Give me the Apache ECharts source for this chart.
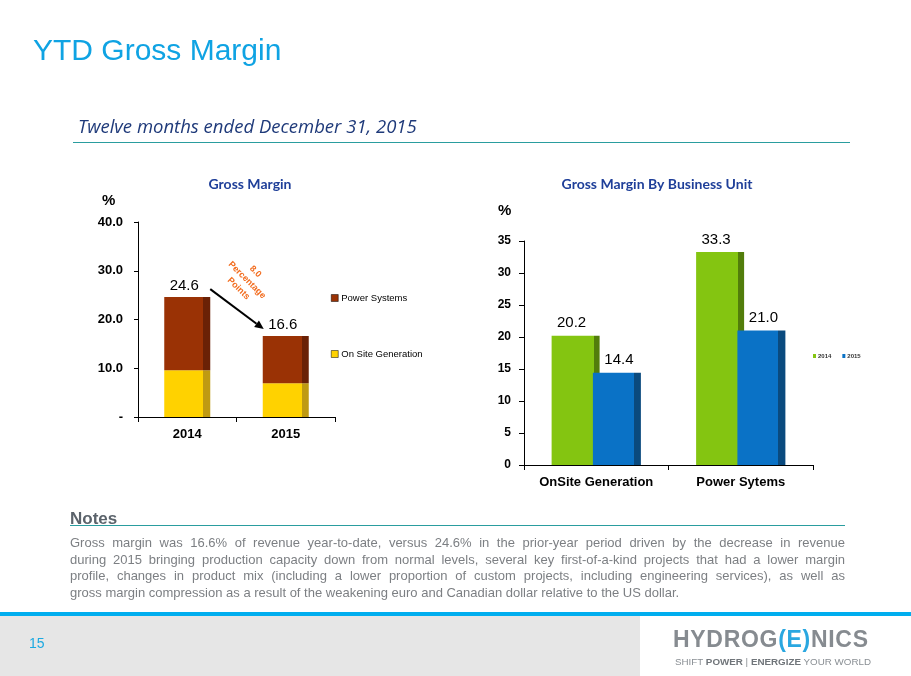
<!DOCTYPE html>
<html>
<head>
<meta charset="utf-8">
<script src="https://cdn.jsdelivr.net/npm/echarts@6/dist/echarts.min.js"></script>
<style>
  html, body { margin: 0; padding: 0; background: #fff; }
  #page { position: relative; width: 911px; height: 676px; overflow: hidden; font-family: "Liberation Sans", Arial, sans-serif; }
  #chart { position: absolute; left: 0; top: 0; width: 911px; height: 676px; }
  .abs { position: absolute; white-space: nowrap; }
  #title { left: 33px; top: 33px; font-size: 30px; color: #0fa3e3; }
  #subtitle { left: 78px; top: 113px; font-family: "Open Sans", Lato, sans-serif; font-style: italic; font-size: 18.5px; color: #1f3a7a; }
  #subline { left: 73px; top: 142px; width: 777px; height: 1px; background: #2a9d9f; }
  #notesHead { left: 70px; top: 509px; font-size: 17px; font-weight: bold; color: #5b636b; }
  #notesLine { left: 70px; top: 525px; width: 775px; height: 1px; background: #2a9d9f; }
  #notes { left: 70px; top: 535px; width: 775px; font-size: 13px; line-height: 16.5px; color: #7c7f83; }
  #notes div { text-align: justify; text-align-last: justify; white-space: nowrap; }
  #notes div:last-child { text-align-last: left; }
  #footBar { left: 0; top: 612px; width: 911px; height: 4px; background: #00aeef; }
  #footGray { left: 0; top: 616px; width: 640px; height: 60px; background: #e6e6e6; }
  #pageNo { left: 29px; top: 635px; font-size: 14px; color: #1ba9e1; }
  #logo { left: 673px; top: 626px; font-size: 23px; font-weight: bold; color: #868b90; letter-spacing: 0.7px; }
  #logo span { color: #2aa7e0; }
  #tag { left: 675px; top: 656px; font-size: 9.8px; color: #8a8f94; }
  #tag b { color: #70757a; }
</style>
</head>
<body>
<div id="page">
  <div id="footGray" class="abs"></div>
  <div id="chart"></div>
  <div id="title" class="abs">YTD Gross Margin</div>
  <div id="subtitle" class="abs">Twelve months ended December 31, 2015</div>
  <div id="subline" class="abs"></div>
  <div id="notesHead" class="abs">Notes</div>
  <div id="notesLine" class="abs"></div>
  <div id="notes" class="abs">
    <div>Gross margin was 16.6% of revenue year-to-date, versus 24.6% in the prior-year period driven by the decrease in revenue</div>
    <div>during 2015 bringing production capacity down from normal levels, several key first-of-a-kind projects that had a lower margin</div>
    <div>profile, changes in product mix (including a lower proportion of custom projects, including engineering services), as well as</div>
    <div>gross margin compression as a result of the weakening euro and Canadian dollar relative to the US dollar.</div>
  </div>
  <div id="footBar" class="abs"></div>
  <div id="pageNo" class="abs">15</div>
  <div id="logo" class="abs">HYDROG<span>(E)</span>NICS</div>
  <div id="tag" class="abs">SHIFT <b>POWER</b> | <b>ENERGIZE</b> YOUR WORLD</div>
</div>
<script>
// left chart: total gross margin, split by unit
const yearCats = ["2014", "2015"];
const onSiteGen = [9.6, 6.9];
const powerSys = [15.0, 9.7];
const leftTicks = ["-", "10.0", "20.0", "30.0", "40.0"];

// right chart: gross margin by business unit
const unitCats = ["OnSite Generation", "Power Sytems"];
const unit2014 = [20.2, 33.3];
const unit2015 = [14.4, 21.0];

const chart = echarts.init(document.getElementById("chart"));

// flat front face + darker side strip, fakes the 3D bars
const face = (main, side, frac) => ({
  type: "linear", x: 0, y: 0, x2: 1, y2: 0,
  colorStops: [
    { offset: 0, color: main },
    { offset: frac, color: main },
    { offset: frac, color: side },
    { offset: 1, color: side }
  ]
});

const axisFont = { fontFamily: "Liberation Sans", fontWeight: "bold", color: "#000" };
const blackLine = { lineStyle: { color: "#000", width: 1 } };
const titleFont = { fontFamily: "Lato", fontSize: 14, fontWeight: "bold", color: "#1f3f99" };

const option = {
  animation: false,
  title: [
    { text: "Gross Margin", left: 245, top: 172, textAlign: "center", textStyle: titleFont },
    { text: "Gross Margin By Business Unit", left: 652, top: 172, textAlign: "center", textStyle: titleFont }
  ],
  legend: [
    {
      orient: "vertical", left: 326, top: 287, itemWidth: 7, itemHeight: 7, itemGap: 44,
      icon: "rect", selectedMode: false,
      textStyle: { fontFamily: "Liberation Sans", fontSize: 9.5, color: "#000", lineHeight: 12, padding: [0, 0, 0, -2] },
      data: [
        { name: "Power Systems", itemStyle: { color: "#9a3205", borderColor: "#000", borderWidth: 0.5 } },
        { name: "On Site Generation", itemStyle: { color: "#ffd200", borderColor: "#000", borderWidth: 0.5 } }
      ]
    },
    {
      orient: "horizontal", left: 808, top: 348, itemWidth: 3, itemHeight: 4, itemGap: 11,
      icon: "rect", selectedMode: false,
      textStyle: { fontFamily: "Liberation Sans", fontSize: 6, fontWeight: "bold", color: "#333", padding: [0, 0, 0, -3] },
      data: [
        { name: "2014", itemStyle: { color: "#84c511" } },
        { name: "2015", itemStyle: { color: "#0a72c6" } }
      ]
    }
  ],
  grid: [
    { left: 138, top: 222, width: 197, height: 195 },
    { left: 524, top: 241, width: 289, height: 224 }
  ],
  xAxis: [
    {
      type: "category", gridIndex: 0, data: yearCats,
      axisLine: blackLine, axisTick: { show: true, length: 5, lineStyle: { color: "#000" } },
      axisLabel: Object.assign({ fontSize: 13, margin: 11, interval: 0 }, axisFont)
    },
    {
      type: "category", gridIndex: 1, data: unitCats,
      axisLine: blackLine, axisTick: { show: true, length: 5, lineStyle: { color: "#000" } },
      axisLabel: Object.assign({ fontSize: 13, margin: 11, interval: 0 }, axisFont)
    }
  ],
  yAxis: [
    {
      type: "value", gridIndex: 0, min: 0, max: 40, interval: 10,
      axisLine: Object.assign({ show: true }, blackLine),
      axisTick: { show: true, length: 4, lineStyle: { color: "#000" } },
      splitLine: { show: false },
      axisLabel: Object.assign({ fontSize: 13, margin: 15, formatter: v => leftTicks[Math.round(v / 10)] }, axisFont)
    },
    {
      type: "value", gridIndex: 1, min: 0, max: 35, interval: 5,
      axisLine: Object.assign({ show: true }, blackLine),
      axisTick: { show: true, length: 5, lineStyle: { color: "#000" } },
      splitLine: { show: false },
      axisLabel: Object.assign({ fontSize: 12, margin: 13 }, axisFont)
    }
  ],
  series: [
    {
      name: "On Site Generation", type: "bar", xAxisIndex: 0, yAxisIndex: 0, stack: "gm",
      barWidth: 46, data: onSiteGen,
      itemStyle: { color: face("#ffd200", "#bf9a12", 0.85) }
    },
    {
      name: "Power Systems", type: "bar", xAxisIndex: 0, yAxisIndex: 0, stack: "gm",
      barWidth: 46, data: powerSys,
      itemStyle: { color: face("#9a3205", "#6a2106", 0.85) },
      label: {
        show: true, position: "top", distance: 4, offset: [-3, 0],
        fontFamily: "Liberation Sans", fontSize: 15, color: "#000",
        formatter: p => (onSiteGen[p.dataIndex] + powerSys[p.dataIndex]).toFixed(1)
      }
    },
    {
      name: "2014", type: "bar", xAxisIndex: 1, yAxisIndex: 1,
      barWidth: 48, barGap: "-14%", data: unit2014,
      itemStyle: { color: face("#84c511", "#527d0b", 0.875) },
      label: {
        show: true, position: "top", distance: 5, offset: [-4, 0],
        fontFamily: "Liberation Sans", fontSize: 15, color: "#000",
        formatter: p => p.value.toFixed(1)
      }
    },
    {
      name: "2015", type: "bar", xAxisIndex: 1, yAxisIndex: 1,
      barWidth: 48, data: unit2015,
      itemStyle: { color: face("#0a72c6", "#0a4a7e", 0.85) },
      label: {
        show: true, position: "top", distance: 5, offset: [2, 0],
        fontFamily: "Liberation Sans", fontSize: 15, color: "#000",
        formatter: p => p.value.toFixed(1)
      }
    }
  ],
  graphic: [
    { type: "text", left: 102, top: 193,
      style: { text: "%", fontFamily: "Liberation Sans", fontSize: 15, fontWeight: "bold", fill: "#000" } },
    { type: "text", left: 498, top: 203,
      style: { text: "%", fontFamily: "Liberation Sans", fontSize: 15, fontWeight: "bold", fill: "#000" } }
  ]
};

chart.setOption(option);

// arrow from the 2014 total down to the 2015 total, with the drop noted beside it
const tot = yearCats.map((c, i) => onSiteGen[i] + powerSys[i]);
const p0 = chart.convertToPixel({ xAxisIndex: 0, yAxisIndex: 0 }, [yearCats[0], tot[0]]);
const p1 = chart.convertToPixel({ xAxisIndex: 0, yAxisIndex: 0 }, [yearCats[1], tot[1]]);
const sx = p0[0] + 23, sy = p0[1] - 8;
const ex = p1[0] - 22, ey = p1[1] - 7;
const ang = Math.atan2(ey - sy, ex - sx);
const head = 9, half = 4;
const bx = ex - head * Math.cos(ang), by = ey - head * Math.sin(ang);
const drop = (tot[0] - tot[1]).toFixed(1);

chart.setOption({
  graphic: [
    { id: "arrowLine", type: "line",
      shape: { x1: sx, y1: sy, x2: bx, y2: by },
      style: { stroke: "#000", lineWidth: 2 } },
    { id: "arrowHead", type: "polygon",
      shape: { points: [
        [ex, ey],
        [bx + half * Math.sin(ang), by - half * Math.cos(ang)],
        [bx - half * Math.sin(ang), by + half * Math.cos(ang)]
      ] },
      style: { fill: "#000" } },
    { id: "dropNote", type: "text",
      x: (sx + ex) / 2 + 10, y: (sy + ey) / 2 - 29, rotation: -0.78,
      style: {
        text: drop + "\nPercentage\nPoints", align: "center", verticalAlign: "middle",
        fontFamily: "Liberation Sans", fontSize: 9, fontWeight: "bold", lineHeight: 12, fill: "#f26b1d"
      } }
  ]
});
</script>
</body>
</html>
